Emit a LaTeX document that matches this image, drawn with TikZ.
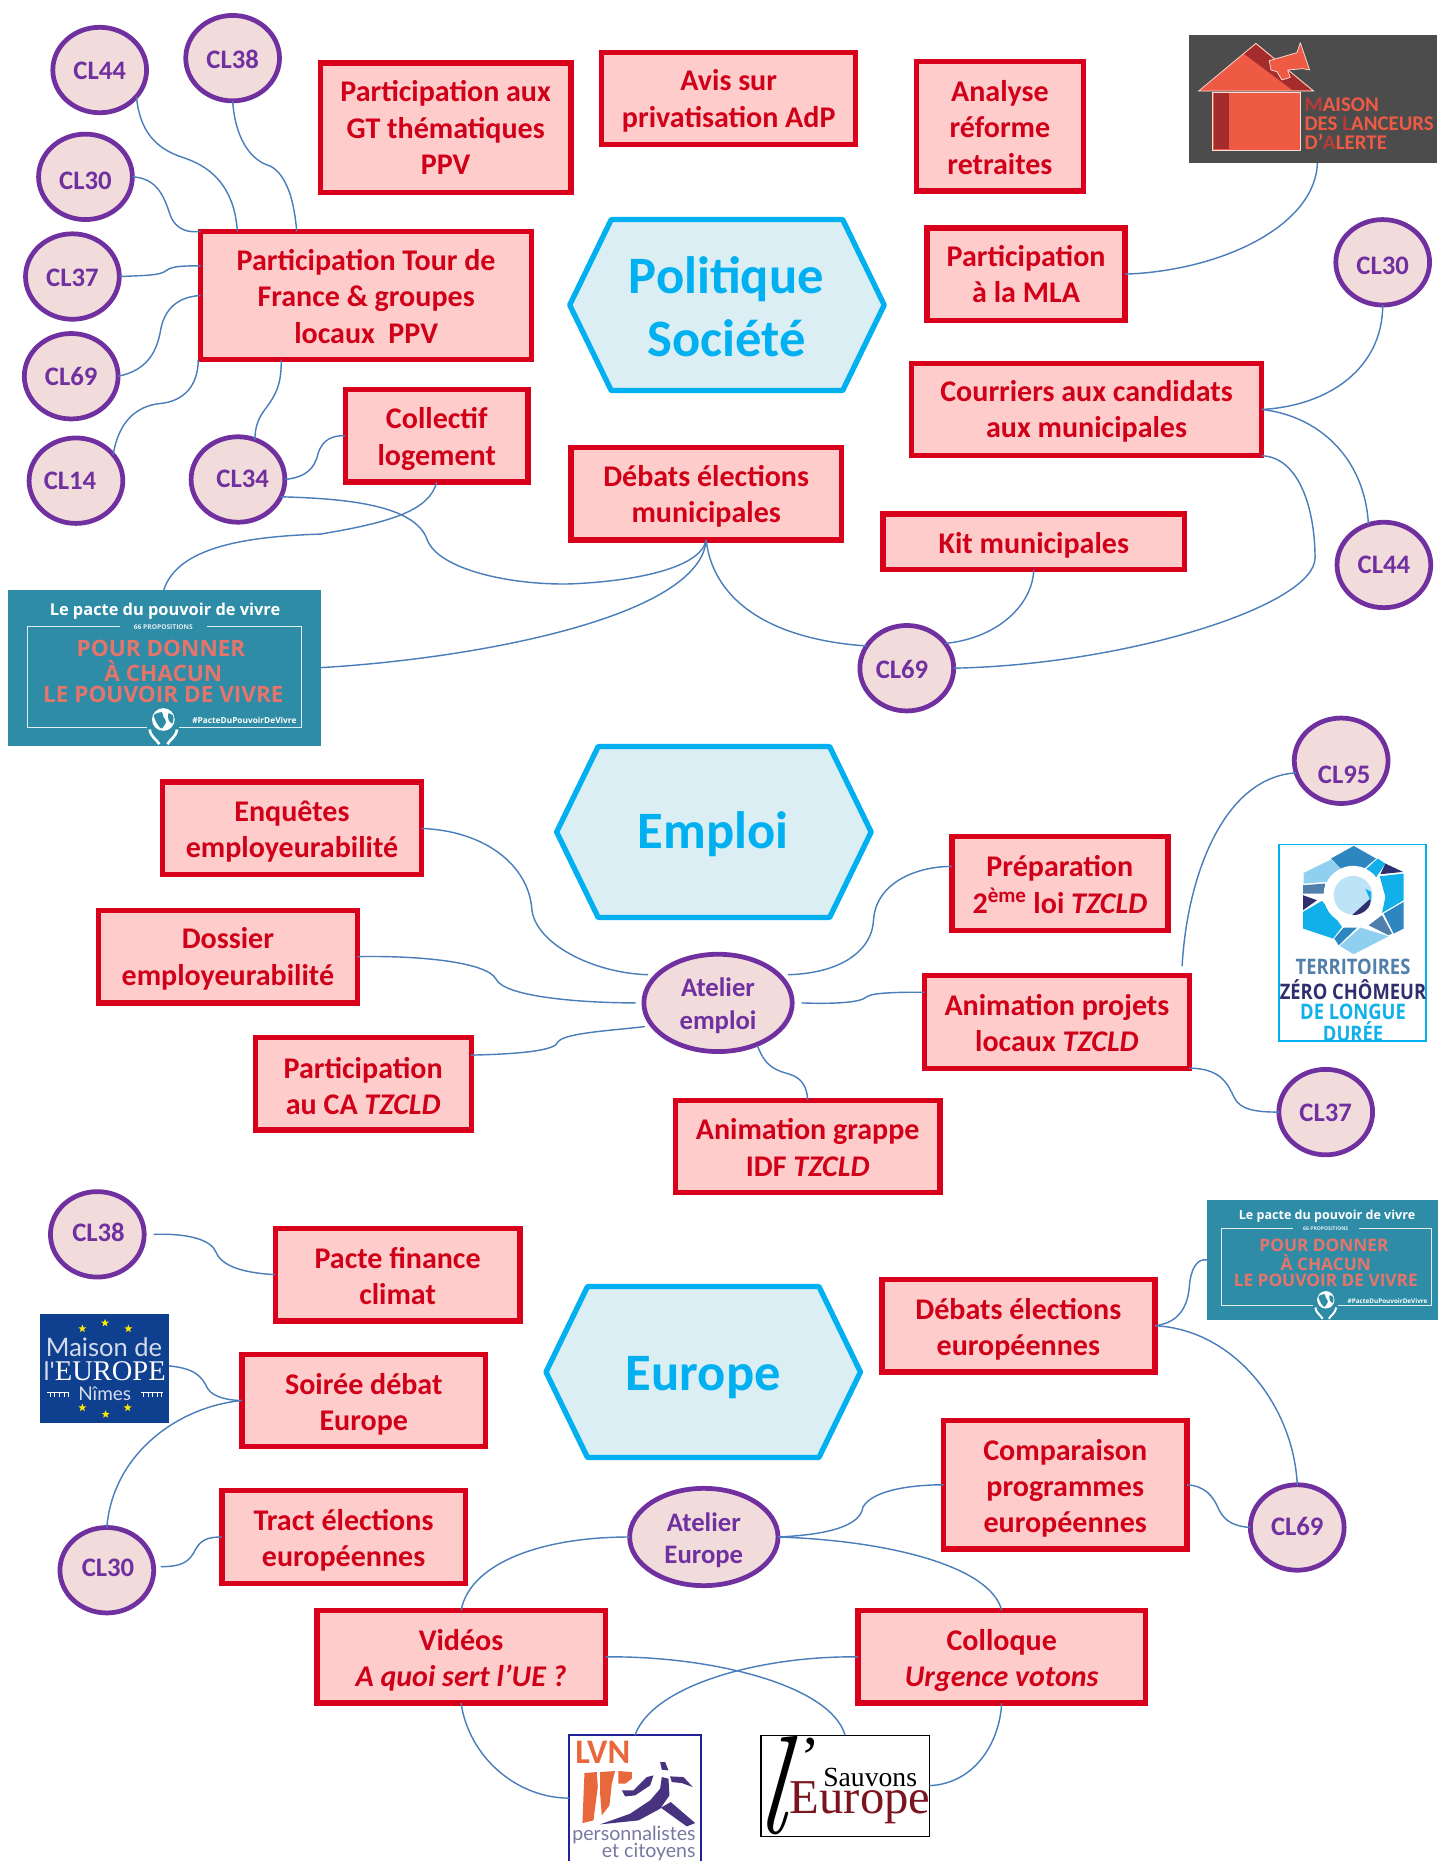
\documentclass[tikz,border=0pt]{standalone}
\usepackage{fontspec}
\setmainfont{Carlito}
\newfontfamily\osans{Open Sans}
\newfontfamily\lato{Lato}
\newfontfamily\lserif{Liberation Serif}
\newfontfamily\lmrom{Latin Modern Roman}
\usetikzlibrary{shapes.geometric}
\definecolor{boxred}{HTML}{D9001B}
\definecolor{boxfill}{HTML}{FFCCCC}
\definecolor{txtred}{HTML}{D00018}
\definecolor{cpurple}{HTML}{7030A0}
\definecolor{cfill}{HTML}{F2DCDB}
\definecolor{hexblue}{HTML}{00B0F0}
\definecolor{hexfill}{HTML}{DAEEF3}
\definecolor{linkblue}{HTML}{4A7EBB}
\definecolor{teal}{HTML}{2E8CA6}
\definecolor{salmon}{HTML}{E5756B}
\definecolor{mlared}{HTML}{EF5A45}
\definecolor{mladark}{HTML}{A52C2C}
\definecolor{mlamid}{HTML}{B93A36}
\definecolor{tzb}{HTML}{2E86C1}
\definecolor{tzl}{HTML}{8FD0F0}
\definecolor{tzc}{HTML}{12B0EA}
\definecolor{tzn}{HTML}{2F2F70}
\definecolor{tzs}{HTML}{4F7FAA}
\definecolor{euroblue}{HTML}{0F3F8F}
\definecolor{lvnor}{HTML}{E8683C}
\definecolor{lvnpu}{HTML}{47337F}
\definecolor{wine}{HTML}{7A1520}
\tikzset{
  redbox/.style={draw=boxred,fill=boxfill,line width=4.5pt,text=txtred,align=center,inner sep=0pt,outer sep=0pt,
    font=\fontsize{25.3}{30.5}\selectfont\bfseries},
  clnode/.style={ellipse,draw=cpurple,fill=cfill,line width=4pt,text=cpurple,align=center,inner sep=0pt,outer sep=0pt,
    minimum width=79pt,minimum height=72pt,font=\fontsize{22.5}{27.5}\selectfont\bfseries},
  atnode/.style={clnode,minimum width=125pt,minimum height=82pt},
  hexbox/.style={draw=hexblue,fill=hexfill,line width=4.5pt,line join=round},
  hextext/.style={text=hexblue,align=center,font=\fontsize{44.3}{53}\selectfont\bfseries},
  conn/.style={draw=linkblue,line width=1.2pt},
  logoanchor/.style={inner sep=0pt,outer sep=0pt},
}
\newcommand\up[1]{\rule{0pt}{\dimexpr17.5pt+#1pt*2\relax}}
\newcommand\tx[3]{\makebox[0pt]{\hspace*{\dimexpr#1pt*2\relax}\raisebox{\dimexpr-7.1pt-#2pt\relax}[0pt][0pt]{#3}}}
\newcommand\rb[6]{%
  \pgfmathsetmacro\cxx{(#2+#4)/2}\pgfmathsetmacro\cyy{(#3+#5)/2}%
  \pgfmathsetmacro\ww{#4-#2}\pgfmathsetmacro\hh{#5-#3}%
  \node[redbox,minimum width=\ww pt,minimum height=\hh pt] (#1) at (\cxx,\cyy) {#6};}
\newcommand\logoa[5]{%
  \pgfmathsetmacro\cxx{(#2+#4)/2}\pgfmathsetmacro\cyy{(#3+#5)/2}%
  \pgfmathsetmacro\ww{#4-#2}\pgfmathsetmacro\hh{#5-#3}%
  \node[logoanchor,minimum width=\ww pt,minimum height=\hh pt] (#1) at (\cxx,\cyy) {};}
\newcommand\hexa[6]{% name, left x, top y, text, text x, text y
  \draw[hexbox] (#2,#3+72) -- (#2+35,#3) -- (#2+230,#3) -- (#2+265,#3+72) -- (#2+230,#3+144) -- (#2+35,#3+144) -- cycle;
  \node[hextext] (#1) at (#5,#6) {#4};}
\newcommand\pacte[5]{% shiftx shifty xs ys fontscale
  \pgfmathsetmacro\xu{#3*0.2809}\pgfmathsetmacro\yu{-#4*0.2809}
  \pgfmathsetmacro\lwa{#5*1.1}\pgfmathsetmacro\lwb{#5*2.2}
  \begin{scope}[shift={(#1,#2)},x=\xu pt,y=\yu pt]
    \pgfmathsetmacro\fa{#5*13.8}\pgfmathsetmacro\fb{#5*5.6}\pgfmathsetmacro\fc{#5*19}\pgfmathsetmacro\fd{#5*7}
    \fill[teal] (24,30) rectangle (963,497);
    \draw[white!85!teal,line width=\lwa pt] (360,140) -- (82,140) -- (82,442) -- (440,442);
    \draw[white!85!teal,line width=\lwa pt] (620,140) -- (905,140) -- (905,442) -- (538,442);
    \node[text=white,inner sep=0pt] at (495,92) {\osans\bfseries\fontsize{\fa}{\fa}\selectfont Le pacte du pouvoir de vivre};
    \node[text=white!85!teal,inner sep=0pt] at (490,140) {\osans\bfseries\fontsize{\fb}{\fb}\selectfont 66 PROPOSITIONS};
    \node[text=salmon,inner sep=0pt] at (483,205) {\osans\bfseries\fontsize{\fc}{\fc}\selectfont POUR DONNER};
    \node[text=salmon,inner sep=0pt] at (490,272) {\osans\bfseries\fontsize{\fc}{\fc}\selectfont À CHACUN};
    \node[text=salmon,inner sep=0pt] at (490,342) {\osans\bfseries\fontsize{\fc}{\fc}\selectfont LE POUVOIR DE VIVRE};
    \node[text=white,inner sep=0pt] at (733,422) {\osans\bfseries\fontsize{\fd}{\fd}\selectfont \#PacteDuPouvoirDeVivre};
    \fill[white] (490,418) ellipse [x radius=34,y radius=34];
    \fill[teal] plot[smooth cycle] coordinates {(462,405) (485,396) (490,410) (498,425) (485,445) (472,432)};
    \fill[teal] plot[smooth cycle] coordinates {(505,400) (520,408) (517,430) (506,420)};
    \draw[white,line width=\lwb pt] (449,448) .. controls (452,470) and (468,476) .. (478,492);
    \draw[white,line width=\lwb pt] (531,448) .. controls (528,470) and (512,476) .. (502,492);
  \end{scope}}
\begin{document}
\begin{tikzpicture}[x=1pt,y=-1pt]
\useasboundingbox (0,0) rectangle (1211,1568);
% ---------- logos ----------
\logoa{mla}{1002}{29.5}{1211}{137.5}{}
\logoa{pacteA}{7}{497}{270.5}{628}{}
\logoa{pacteB}{1017}{1011}{1211}{1112}{}
\logoa{tzcld}{1077}{711}{1202.5}{878}{}
\logoa{mde}{33.7}{1106.7}{142.4}{1199}{}
\logoa{lvn}{479.5}{1462}{590.5}{1568}{}
\logoa{sauv}{641}{1462}{783}{1547}{}
% Maison des lanceurs d'alerte
\begin{scope}[shift={(986.0,16.85)},x=0.2809pt,y=-0.2809pt]
  \fill[black!70] (57,45) rectangle (801,428);
  \fill[mlared,draw=white!80!mlared,line width=.6pt] (85,213) -- (257,70) -- (430,213) -- cycle;
  \fill[mladark] (222,102) -- (257,74) -- (422,210) -- (366,210) -- cycle;
  \fill[mlared,draw=white!80!mlared,line width=.6pt] (125,218) rectangle (390,390);
  \fill[mladark] (130,220) rectangle (177,386);
  \fill[mlared,draw=white!80!mlared,line width=.6pt,line join=round] (297,122) -- (380,98) -- (390,68) -- (418,150) -- (398,146) -- (352,150) -- (360,172) -- (335,180) -- (320,155) -- (302,150) -- cycle;
  \begin{scope}[every node/.style={anchor=west,inner sep=0pt,text=mlared}]
    \node at (402,253) {\fontsize{17.6}{17.6}\selectfont\bfseries{\color{mlamid}M}AISON};
    \node at (402,310) {\fontsize{17.6}{17.6}\selectfont\bfseries DES {\color{mlamid}L}ANCEURS};
    \node at (402,367) {\fontsize{17.6}{17.6}\selectfont\bfseries D'{\color{mlamid}A}LERTE};
  \end{scope}
\end{scope}
% Pacte
\pacte{0}{488.8}{1}{1}{1}
\pacte{1012}{1005}{0.763}{0.768}{0.765}
% TZCLD
\begin{scope}[shift={(1061.9,699.5)},x=0.2809pt,y=-0.2809pt]
  \draw[hexblue,line width=1.5pt,fill=white] (57,43) rectangle (498,633);
  \fill[tzb] (212,85) -- (280,47) -- (347,85) -- (300,125) -- (250,125) -- cycle;
  \fill[tzl] (130,128) -- (212,88) -- (248,125) -- (200,155) -- (130,160) -- cycle;
  \fill[tzc] (352,85) -- (375,100) -- (345,145) -- (305,128) -- cycle;
  \fill[tzn] (375,100) -- (428,125) -- (360,132) -- cycle;
  \fill[tzc] (358,138) -- (430,130) -- (430,210) -- (365,248) -- (375,200) -- cycle;
  \fill[tzs] (128,165) -- (195,160) -- (190,190) -- (128,190) -- cycle;
  \fill[tzn] (128,195) -- (170,210) -- (128,240) -- cycle;
  \fill[tzc] (128,245) -- (185,212) -- (220,255) -- (245,290) -- (218,325) -- (128,295) -- cycle;
  \fill[tzb] (235,345) -- (222,325) -- (250,292) -- (290,292) -- cycle;
  \fill[tzl] (238,347) -- (300,292) -- (385,318) -- (280,372) -- cycle;
  \fill[tzs] (325,285) -- (365,255) -- (395,310) -- (385,315) -- cycle;
  \fill[tzb] (370,250) -- (430,215) -- (430,295) -- (400,310) -- cycle;
  \fill[white] (278,195) ellipse [x radius=88,y radius=88];
  \fill[tzl!60!white] (278,195) ellipse [x radius=58,y radius=58];
  \fill[tzn] (275,255) -- (330,205) .. controls (335,230) and (310,255) .. (275,255) -- cycle;
  \fill[tzc] (315,175) -- (332,185) -- (332,215) -- cycle;
  \begin{scope}[every node/.style={inner sep=0pt,xscale=0.86,transform shape}]
    \node[text=tzs] at (278,410) {\osans\bfseries\fontsize{18}{18}\selectfont TERRITOIRES};
    \node[text=tzn] at (278,478) {\osans\bfseries\fontsize{18}{18}\selectfont ZÉRO CHÔMEUR};
    \node[text=tzc] at (278,545) {\osans\bfseries\fontsize{18}{18}\selectfont DE LONGUE};
    \node[text=tzc] at (278,605) {\osans\bfseries\fontsize{18}{18}\selectfont DURÉE};
  \end{scope}
\end{scope}
% Maison de l'Europe
\begin{scope}[shift={(25.28,1095.6)},x=0.2809pt,y=-0.2809pt]
  \fill[euroblue] (30,40) rectangle (417,368);
  \foreach \sx/\sy in {225/68,157/85,295/85,157/322,227/342,293/322}
    \node[star,star points=5,star point ratio=2.4,fill=yellow!90!orange,minimum size=7pt,inner sep=0pt] at (\sx,\sy) {};
  \node[text=white!82!euroblue,inner sep=0pt] at (222,142) {\lato\fontsize{21.5}{21.5}\selectfont Maison de};
  \node[text=white,inner sep=0pt] at (224,214) {{\lato\color{white!82!euroblue}\fontsize{21.5}{21.5}\selectfont l'}\lserif\fontsize{24}{24}\selectfont EUROPE};
  \node[text=white!82!euroblue,inner sep=0pt] at (224,280) {\lato\fontsize{16}{16}\selectfont Nîmes};
  \foreach \ox in {52,332}{
    \draw[white,line width=.8pt] (\ox,276) -- (\ox+66,276);
    \foreach \k in {8,22,36,50,62}
      \draw[white,line width=.8pt] (\ox+\k,276) -- (\ox+\k,290);
  }
\end{scope}
% LVN and Sauvons l'Europe
\begin{scope}[shift={(463.5,1449.5)},x=0.2809pt,y=-0.2809pt]
  \fill[white] (57,45) rectangle (452,423);
  \draw[tzn!70!blue,line width=1.5pt] (57,423) -- (57,45) -- (452,45) -- (452,423);
  \node[text=lvnor,inner sep=0pt] at (158,96) {\fontsize{29}{29}\selectfont\bfseries LVN};
  \fill[lvnor] (103,158) -- (140,155) -- (143,200) -- (130,300) -- (97,308) -- (100,230) -- cycle;
  \fill[lvnor] (150,155) -- (195,152) -- (185,190) -- (178,255) -- (155,285) -- (150,220) -- cycle;
  \fill[lvnor] (205,152) -- (245,155) -- (245,175) -- (225,190) -- (205,190) -- cycle;
  \fill[lvnpu] (215,210) -- (250,210) -- (290,170) -- (310,165) -- (300,195) -- (255,225) -- (225,228) -- cycle;
  \fill[lvnpu] (330,125) -- (345,125) -- (355,150) -- (335,148) -- cycle;
  \fill[lvnpu] (335,170) -- (355,175) -- (358,225) -- (330,265) -- (265,300) -- (150,312) -- (240,280) -- (300,240) -- (330,205) -- cycle;
  \fill[lvnpu] (360,168) -- (400,170) -- (428,200) -- (395,188) -- (365,185) -- cycle;
  \fill[lvnpu] (332,262) -- (362,245) -- (435,308) -- (410,318) -- cycle;
  \node[text=tzn!65!white,inner sep=0pt,anchor=east] at (437,345) {\lato\fontsize{16.5}{16.5}\selectfont personnalistes};
  \node[text=tzn!65!white,inner sep=0pt,anchor=east] at (437,395) {\lato\fontsize{16.5}{16.5}\selectfont et citoyens};
  % Sauvons
  \draw[black,line width=1.3pt,fill=white] (633,45) rectangle (1138,348);
  \node[inner sep=0pt,text=black,xscale=0.8,xslant=0.1,transform shape] at (672,195) {\lmrom\itshape\fontsize{118}{118}\selectfont l};
  \node[inner sep=0pt,text=black] at (780,112) {\lserif\fontsize{50}{50}\selectfont ’};
  \node[inner sep=0pt,text=black] at (960,170) {\lserif\fontsize{23.3}{23.3}\selectfont Sauvons};
  \node[inner sep=0pt,text=wine] at (930,246) {\lserif\fontsize{41}{41}\selectfont Europe};
\end{scope}
% ---------- hexagons ----------
\hexa{hpol}{480}{185}{Politique\\Société}{612}{258.5}
\hexa{hemp}{469}{629}{Emploi}{601}{703}
\hexa{heur}{460}{1084}{Europe}{592.5}{1161}
% ---------- boxes ----------
\rb{gt}{270}{53}{481}{162}{Participation aux\\GT thématiques\\PPV}
\rb{avis}{507}{44}{721}{122}{\up{2}Avis sur\\privatisation AdP}
\rb{ana}{772}{52}{913}{161}{\up{1}Analyse\\réforme\\retraites}
\rb{tour}{169}{195}{448}{303}{\up{1}Participation Tour de\\France \& groupes\\locaux\ \ PPV}
\rb{pmla}{781}{192}{948}{270}{Participation\\à la MLA}
\rb{cour}{768}{306}{1063}{384}{\up{2}Courriers aux candidats\\aux municipales}
\rb{coll}{291}{328}{445}{406}{\up{3}Collectif\\logement}
\rb{deb}{481}{377}{709}{455}{\up{2.5}Débats élections\\municipales}
\rb{kit}{744}{433}{998}{480}{\up{3}Kit municipales}
\rb{enq}{137}{659}{355}{737}{\up{2.5}Enquêtes\\employeurabilité}
\rb{dos}{83}{767}{301}{845}{\up{2}Dossier\\employeurabilité}
\rb{pca}{215}{874}{397}{952}{\up{2}Participation\\au CA \textit{TZCLD}}
\rb{gra}{569}{927}{792}{1005}{\up{1}Animation grappe\\IDF \textit{TZCLD}}
\rb{pre}{802}{705}{984}{784}{\up{1}Préparation\\2\textsuperscript{ème} loi \textit{TZCLD}}
\rb{anp}{779}{822}{1002}{900}{\up{1}Animation projets\\locaux \textit{TZCLD}}
\rb{pfc}{232}{1035}{438}{1113}{\up{1.5}Pacte finance\\climat}
\rb{soi}{204}{1141}{409}{1219}{\up{3}Soirée débat\\Europe}
\rb{tra}{187}{1256}{392}{1334}{\up{3}Tract élections\\européennes}
\rb{vid}{267}{1357}{510}{1435}{\up{3}Vidéos\\\textit{A quoi sert l’UE ?}}
\rb{col}{723}{1357}{965}{1435}{\up{3}Colloque\\\textit{Urgence votons}}
\rb{deu}{743}{1078}{973}{1156}{\up{3}Débats élections\\européennes}
\rb{cmp}{795}{1197}{1000}{1305}{\up{3}Comparaison\\programmes\\européennes}
% ---------- CL ellipses ----------
\node[clnode] (a44) at (84,59) {\tx{0}{1}{CL44}};
\node[clnode] (a38) at (196,49) {\tx{0}{1.5}{CL38}};
\node[clnode] (a30) at (72,149) {\tx{0}{3.5}{CL30}};
\node[clnode] (a37) at (61,233) {\tx{0}{1.5}{CL37}};
\node[clnode] (a69) at (60,317) {\tx{0}{1}{CL69}};
\node[clnode] (a14) at (64,405) {\tx{-5}{0}{CL14}};
\node[clnode] (a34) at (200.5,404) {\tx{4}{0}{CL34}};
\node[clnode] (b30) at (1165,221) {\tx{0}{3.5}{CL30}};
\node[clnode] (b44) at (1166,476) {\tx{0}{0}{CL44}};
\node[clnode] (b69) at (764,563) {\tx{-4}{1.5}{CL69}};
\node[clnode] (c95) at (1130,641) {\tx{2.5}{12}{CL95}};
\node[clnode] (c37) at (1117,937) {\tx{0}{1}{CL37}};
\node[clnode] (d38) at (82,1040) {\tx{1}{-1}{CL38}};
\node[clnode] (d30) at (90,1323) {\tx{1}{-2}{CL30}};
\node[clnode] (d69) at (1093,1287) {\tx{0}{0}{CL69}};
\node[atnode] (empl) at (605,845) {\rule{0pt}{21pt}Atelier\\emploi};
\node[atnode] (euro) at (593,1295) {\rule{0pt}{21pt}Atelier\\Europe};
% ---------- connectors : Politique ----------
\draw[conn] (a44.-36) .. controls (118,110) and (130,125) .. (155,133) .. controls (185,143) and (198,165) .. ([xshift=31pt]tour.north west);
\draw[conn] (a38.south) .. controls (198,115) and (210,135) .. (228,140) .. controls (242,148) and (248,170) .. ([xshift=81pt]tour.north west);
\draw[conn] (a30.east) .. controls (132,150) and (138,165) .. (143,180) .. controls (148,195) and (160,196) .. (tour.north west);
\draw[conn] (a37.east) .. controls (125,232) and (135,232) .. (140,228) .. controls (145,224) and (155,224) .. ([yshift=-29pt]tour.north west);
\draw[conn] (a69.east) .. controls (125,312) and (132,295) .. (135,280) .. controls (138,260) and (150,250) .. (tour.west);
\draw[conn] (a14.35) .. controls (100,355) and (115,342) .. (135,340) .. controls (155,338) and (167,325) .. ([xshift=-2pt]tour.south west);
\draw[conn] (a34.67) .. controls (215,350) and (225,345) .. (230,335) .. controls (236,325) and (237,315) .. ([xshift=68pt]tour.south west);
\draw[conn] (a34.east) .. controls (258,402) and (265,395) .. (268,382) .. controls (272,370) and (280,367) .. (coll.west);
\draw[conn] (a34.-22) .. controls (290,420) and (350,425) .. (360,455) .. controls (370,480) and (430,493) .. (480,492) .. controls (530,490) and (590,480) .. (deb.south);
\draw[conn] (coll.south) .. controls (362,430) and (330,440) .. (270,450) .. controls (210,452) and (150,460) .. ([xshift=131pt]pacteA.north west);
\draw[conn] (pacteA.east) .. controls (400,555) and (590,520) .. (deb.south);
\draw[conn] (deb.south) .. controls (600,500) and (640,538) .. (b69.151);
\draw[conn] (kit.south) .. controls (870,510) and (840,538) .. (b69.33);
\draw[conn] (b69.east) .. controls (950,560) and (1108,510) .. (1108,470) .. controls (1108,430) and (1095,385) .. (cour.south east);
\draw[conn] ([yshift=-39pt]cour.north east) .. controls (1120,342) and (1165,310) .. (b30.south);
\draw[conn] ([yshift=-39pt]cour.north east) .. controls (1110,350) and (1150,385) .. (b44.111);
\draw[conn] (pmla.east) .. controls (1030,228) and (1108,190) .. ([xshift=108pt]mla.south west);
% ---------- connectors : Emploi ----------
\draw[conn] (enq.east) .. controls (410,700) and (445,730) .. (448,765) .. controls (450,795) and (500,820) .. ([xshift=-8pt]empl.155);
\draw[conn] (dos.east) .. controls (350,805) and (410,810) .. (418,825) .. controls (425,840) and (490,845) .. ([xshift=-7pt]empl.west);
\draw[conn] ([yshift=24pt]pca.east) .. controls (440,888) and (468,885) .. (470,878) .. controls (475,870) and (520,868) .. ([xshift=-7pt]empl.200);
\draw[conn] ([xshift=3pt]empl.-50) .. controls (645,900) and (655,902) .. (665,905) .. controls (675,908) and (680,915) .. (gra.north);
\draw[conn] ([xshift=8pt]empl.25) .. controls (710,820) and (735,800) .. (736,775) .. controls (738,745) and (770,730) .. ([yshift=-25pt]pre.north west);
\draw[conn] ([xshift=8pt]empl.east) .. controls (700,846) and (725,845) .. (730,840) .. controls (735,836) and (760,836) .. ([yshift=-14pt]anp.north west);
\draw[conn] ([xshift=-6pt,yshift=8pt]anp.north east) .. controls (1000,740) and (1030,655) .. (c95.195);
\draw[conn] (anp.south east) .. controls (1030,900) and (1035,915) .. (1040,925) .. controls (1045,935) and (1058,937) .. (c37.west);
% ---------- connectors : Europe ----------
\draw[conn] ([xshift=8pt]d38.east) .. controls (160,1039) and (178,1045) .. (182,1055) .. controls (188,1070) and (215,1073) .. (pfc.west);
\draw[conn] ([yshift=2pt]mde.east) .. controls (165,1153) and (170,1160) .. (175,1170) .. controls (180,1178) and (195,1180) .. (soi.west);
\draw[conn] (soi.west) .. controls (150,1185) and (95,1225) .. (d30.north);
\draw[conn] ([xshift=6pt,yshift=3pt]d30.east) .. controls (155,1320) and (160,1315) .. (165,1305) .. controls (170,1296) and (178,1295) .. (tra.west);
\draw[conn] (euro.west) .. controls (450,1295) and (395,1320) .. (vid.north);
\draw[conn] (euro.east) .. controls (700,1293) and (725,1285) .. (727,1270) .. controls (735,1255) and (770,1251) .. (cmp.west);
\draw[conn] (euro.east) .. controls (750,1298) and (835,1320) .. (col.north);
\draw[conn] (vid.east) .. controls (600,1395) and (700,1420) .. ([xshift=71pt]sauv.north west);
\draw[conn] (col.west) .. controls (640,1395) and (550,1420) .. ([xshift=55.5pt]lvn.north west);
\draw[conn] (vid.south) .. controls (395,1480) and (435,1515) .. (lvn.west);
\draw[conn] (col.south) .. controls (842,1470) and (820,1503) .. (sauv.east);
\draw[conn] (deu.east) .. controls (990,1115) and (1000,1105) .. (1002,1085) .. controls (1003,1070) and (1008,1060) .. (pacteB.west);
\draw[conn] (deu.east) .. controls (1040,1120) and (1090,1185) .. (d69.north);
\draw[conn] (cmp.east) .. controls (1015,1252) and (1022,1260) .. (1027,1272) .. controls (1032,1282) and (1040,1286) .. (d69.west);
\end{tikzpicture}
\end{document}
